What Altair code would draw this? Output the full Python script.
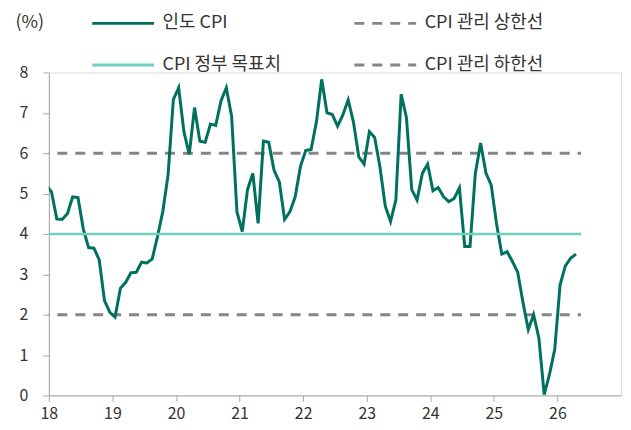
import altair as alt
import pandas as pd

# Monthly India CPI (YoY, %) from Dec 2017 to Apr 2026
cpi_values = [
    5.21,
    5.04, 4.37, 4.36, 4.50, 4.92, 4.90, 4.12, 3.66, 3.65, 3.36, 2.35, 2.06,
    1.94, 2.65, 2.80, 3.04, 3.05, 3.30, 3.28, 3.38, 3.93, 4.55, 5.46, 7.33,
    7.62, 6.53, 5.97, 7.13, 6.30, 6.27, 6.72, 6.69, 7.30, 7.62, 6.91, 4.55,
    4.06, 5.10, 5.50, 4.26, 6.30, 6.27, 5.58, 5.29, 4.36, 4.55, 4.92, 5.68,
    6.07, 6.09, 6.77, 7.83, 7.00, 6.96, 6.67, 6.95, 7.32, 6.77, 5.91, 5.73,
    6.53, 6.39, 5.66, 4.69, 4.31, 4.84, 7.46, 6.88, 5.10, 4.84, 5.50, 5.73,
    5.07, 5.15, 4.92, 4.80, 4.88, 5.14, 3.69, 3.69, 5.50, 6.25, 5.51, 5.21,
    4.26, 3.50, 3.56, 3.32, 3.05, 2.30, 1.63, 2.00, 1.42, 0.02, 0.52, 1.15,
    2.74, 3.21, 3.40, 3.50,
]
start_year = 17
start_month = 12

series_names = ["인도 CPI", "CPI 관리 상한선", "CPI 정부 목표치", "CPI 관리 하한선"]
series_colors = ["#00705f", "#858585", "#6fd0bf", "#858585"]
series_dash = [[1, 0], [10, 8], [1, 0], [10, 8]]

ref_names = ["CPI 관리 상한선", "CPI 정부 목표치", "CPI 관리 하한선"]
ref_levels = [6, 4, 2]
ref_span = [18.0, 26.37]

x_ticks = [18, 19, 20, 21, 22, 23, 24, 25, 26]
y_ticks = [0, 1, 2, 3, 4, 5, 6, 7, 8]

rows = []
for i, v in enumerate(cpi_values):
    m = start_month - 1 + i
    year = start_year + m // 12
    month = m % 12
    rows.append({"x": year + (month + 0.5) / 12, "value": v, "series": "인도 CPI"})
cpi_df = pd.DataFrame(rows)

ref_rows = []
for name, lvl in zip(ref_names, ref_levels):
    for xv in ref_span:
        ref_rows.append({"x": xv, "value": lvl, "series": name})
ref_df = pd.DataFrame(ref_rows)

FONT = "Noto Sans CJK KR"

x_enc = alt.X(
    "x:Q",
    scale=alt.Scale(domain=[18, 27], nice=False, zero=False),
    axis=alt.Axis(values=x_ticks, format="d", title=None, grid=False,
                  tickSize=6, labelPadding=4, labelFontSize=16,
                  domainColor="#a6a6a6", tickColor="#a6a6a6", labelColor="#333333",
                  labelFont=FONT, labelFlush=False),
)
y_enc = alt.Y(
    "value:Q",
    scale=alt.Scale(domain=[0, 8], nice=False),
    axis=alt.Axis(values=y_ticks, title="(%)", grid=False, tickSize=6,
                  labelPadding=15, labelFontSize=16, labelColor="#333333",
                  domainColor="#a6a6a6", tickColor="#a6a6a6", labelFont=FONT,
                  titleAngle=0, titleX=-34, titleY=-50, titleAlign="left",
                  titleBaseline="middle", titleFontSize=18, titleFontWeight="normal",
                  titleColor="#333333", titleFont=FONT),
)

legend_kw = dict(
    title=None, orient="none", legendX=42, legendY=-82, direction="horizontal",
    columns=2, columnPadding=66, rowPadding=-1, symbolType="stroke",
    symbolSize=3844, symbolStrokeWidth=3, labelFontSize=18, labelFont=FONT,
    labelColor="#333333", labelOffset=7, padding=0, labelLimit=300,
)
color_enc = alt.Color(
    "series:N",
    scale=alt.Scale(domain=series_names, range=series_colors),
    legend=alt.Legend(**legend_kw),
)
dash_enc = alt.StrokeDash(
    "series:N",
    scale=alt.Scale(domain=series_names, range=series_dash),
    legend=alt.Legend(**legend_kw),
)

dashed = alt.Chart(ref_df).transform_filter(
    alt.FieldOneOfPredicate(field="series", oneOf=["CPI 관리 상한선", "CPI 관리 하한선"])
).mark_line(strokeWidth=3, strokeDashOffset=9.5).encode(
    x=x_enc, y=y_enc, color=color_enc, strokeDash=dash_enc, detail="series:N")

cpi = alt.Chart(cpi_df).mark_line(strokeWidth=3, clip=True).encode(
    x=x_enc, y=y_enc, color=color_enc, strokeDash=dash_enc)

target = alt.Chart(ref_df).transform_filter(
    alt.FieldEqualPredicate(field="series", equal="CPI 정부 목표치")
).mark_line(strokeWidth=2.5).encode(x=x_enc, y=y_enc, color=color_enc, strokeDash=dash_enc)

chart = alt.layer(dashed, cpi, target).properties(
    width=574, height=324,
    autosize=alt.AutoSizeParams(type="none"),
    padding={"left": 41, "top": 64, "right": 2, "bottom": 30},
).configure_view(stroke=None).configure(font=FONT)

chart.save("out.html", embed_options={"renderer": "svg", "actions": False})
